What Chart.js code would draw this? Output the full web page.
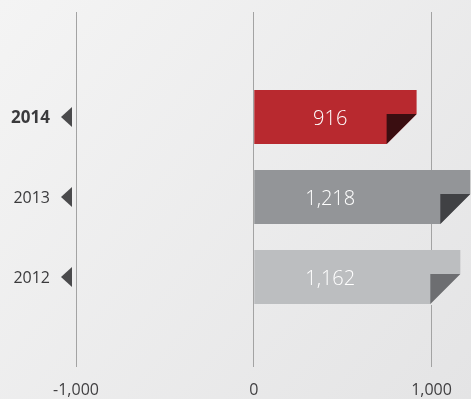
<!DOCTYPE html>
<html>
<head>
<meta charset="utf-8">
<script src="https://cdn.jsdelivr.net/npm/chart.js@4.4.1/dist/chart.umd.min.js"></script>
<style>
html,body{margin:0;padding:0;background:#eee;}
#wrap{width:471px;height:399px;position:relative;}
</style>
</head>
<body>
<div id="wrap"><canvas id="myChart"></canvas></div>
<script>
var years = ["2014", "2013", "2012"];
var values = [916, 1218, 1162];
var xTicks = [-1000, 0, 1000];

var barColors = ["#b8292f", "#939598", "#bcbec0"];
var foldColors = ["#3a0e11", "#404144", "#6d6e71"];

// background gradient, reused to cut the folded corners
var bg = null;
function getBg(chart) {
  if (!bg) {
    bg = chart.ctx.createLinearGradient(0, 0, chart.width, chart.height);
    bg.addColorStop(0, "#f4f4f4");
    bg.addColorStop(1, "#e4e4e5");
  }
  return bg;
}

function fmt(v) {
  return Number(v).toLocaleString("en-US");
}

var paperPlugin = {
  id: "paper",
  beforeDraw: function(chart) {
    var c = chart.ctx;
    c.save();
    c.fillStyle = getBg(chart);
    c.fillRect(0, 0, chart.width, chart.height);
    c.restore();
  },
  afterDatasetsDraw: function(chart) {
    var c = chart.ctx;
    var xs = chart.scales.x;
    var meta = chart.getDatasetMeta(0);
    var f = 30;
    c.save();
    meta.data.forEach(function(bar, i) {
      var right = bar.x;
      var bottom = bar.y + bar.height / 2;
      // cut away lower right corner
      c.fillStyle = getBg(chart);
      c.beginPath();
      c.moveTo(right - f, bottom);
      c.lineTo(right, bottom - f);
      c.lineTo(right + 1, bottom - f);
      c.lineTo(right + 1, bottom + 1);
      c.lineTo(right - f, bottom + 1);
      c.closePath();
      c.fill();
      // folded flap
      c.fillStyle = foldColors[i];
      c.beginPath();
      c.moveTo(right - f, bottom - f);
      c.lineTo(right, bottom - f);
      c.lineTo(right - f, bottom);
      c.closePath();
      c.fill();
      // value text
      c.fillStyle = "#ffffff";
      c.font = "300 20px 'Open Sans'";
      c.textAlign = "center";
      c.textBaseline = "middle";
      c.fillText(fmt(values[i]), xs.getPixelForValue(430), bar.y + 2);
    });

    // year labels with arrow markers
    var left = chart.chartArea.left;
    meta.data.forEach(function(bar, i) {
      var y = bar.y;
      c.fillStyle = "#3a3a3c";
      c.font = (i === 0 ? "bold 17px" : "16px") + " 'Open Sans'";
      c.textAlign = "right";
      c.textBaseline = "middle";
      c.fillText(years[i], left - 26, y + 1);
      c.fillStyle = "#4a4a4c";
      c.beginPath();
      c.moveTo(left - 4, y - 10);
      c.lineTo(left - 4, y + 10);
      c.lineTo(left - 15, y);
      c.closePath();
      c.fill();
    });
    c.restore();
  }
};

var ctx = document.getElementById("myChart");
var myChart = new Chart(ctx, {
  type: "bar",
  data: {
    labels: years,
    datasets: [{
      data: values,
      backgroundColor: barColors,
      borderWidth: 0,
      barPercentage: 0.9,
      categoryPercentage: 0.75
    }]
  },
  options: {
    indexAxis: "y",
    responsive: true,
    maintainAspectRatio: false,
    animation: false,
    layout: { padding: { left: 76, right: 0, top: 0, bottom: 0 } },
    plugins: {
      legend: { display: false },
      tooltip: { enabled: false }
    },
    scales: {
      y: { display: false },
      x: {
        min: -1000,
        max: 1222,
        afterBuildTicks: function(s) {
          s.ticks = xTicks.map(function(v) { return { value: v }; });
        },
        grid: { color: "#a3a3a3", lineWidth: 1, tickLength: 50 },
        border: { display: false },
        ticks: {
          color: "#414042",
          font: { family: "Open Sans", size: 16 },
          padding: 14,
          callback: function(v) { return fmt(v); }
        },
        afterFit: function(s) { s.height = 82; }
      },
      x2: {
        position: "top",
        min: -1000,
        max: 1222,
        afterBuildTicks: function(s) {
          s.ticks = xTicks.map(function(v) { return { value: v }; });
        },
        grid: { color: "#a3a3a3", lineWidth: 1, tickLength: 65, drawOnChartArea: false },
        border: { display: false },
        ticks: { display: false },
        afterFit: function(s) { s.height = 77; }
      }
    }
  },
  plugins: [paperPlugin]
});
</script>
</body>
</html>
